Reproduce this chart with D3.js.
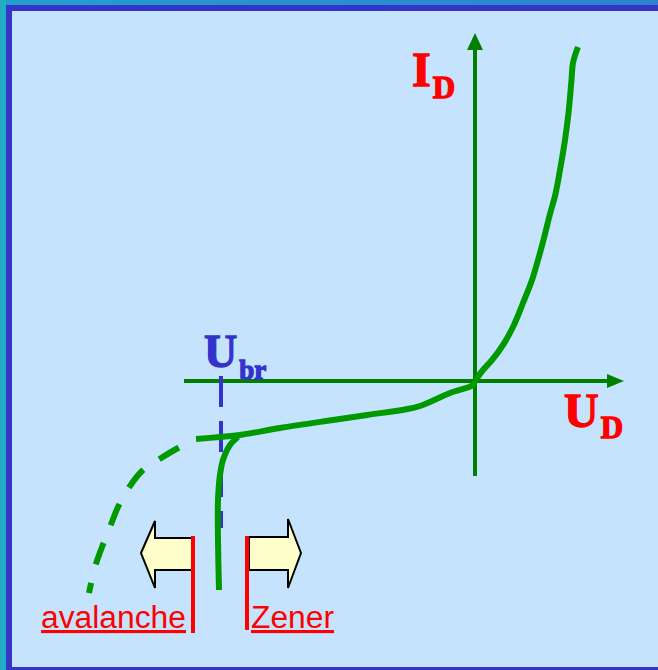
<!DOCTYPE html>
<html><head><meta charset="utf-8">
<script src="https://cdn.jsdelivr.net/npm/d3@7"></script>
<style>html,body{margin:0;padding:0;background:#2a90d0;overflow:hidden}</style>
</head><body>
<script>
// Forward characteristic (U in V-units, I in mA-units)
const forwardU = [0, 0.16, 0.34, 0.56, 0.76, 0.96, 1.14, 1.26, 1.38, 1.50, 1.60, 1.70, 1.80, 1.87, 1.93, 1.96, 2.06];
const forwardI = [0, 0.22, 0.42, 0.72, 1.08, 1.56, 2.02, 2.42, 2.86, 3.34, 3.70, 4.22, 4.82, 5.36, 6.02, 6.36, 6.68];
// Reverse leakage
const reverseU = [0, -0.04, -0.5, -1.1, -1.4, -2.16, -2.84, -3.9, -4.7, -5.1, -5.58];
const reverseI = [0, -0.08, -0.24, -0.50, -0.57, -0.68, -0.78, -0.94, -1.08, -1.12, -1.16];
// Zener breakdown branch
const zenerU = [-4.74, -4.9, -5.04, -5.1, -5.14, -5.14, -5.12];
const zenerI = [-1.12, -1.28, -1.58, -1.88, -2.38, -3.18, -4.18];
// Avalanche breakdown branch (dashed)
const avalU = [-5.58, -5.94, -6.34, -6.66, -6.94, -7.14, -7.3, -7.46, -7.6, -7.72];
const avalI = [-1.16, -1.34, -1.58, -1.8, -2.16, -2.52, -2.92, -3.32, -3.72, -4.24];
// Breakdown voltage marker
const Ubr = -5.08;
const labels = ["I", "D", "U", "D", "U", "br", "avalanche", "Zener"];

const W = 658, H = 670;
const svg = d3.select("body").append("svg").attr("width", W).attr("height", H)
  .style("display", "block");

const defs = svg.append("defs");
const grad = defs.append("linearGradient").attr("id", "topg").attr("x1", 0).attr("x2", 1);
grad.append("stop").attr("offset", 0).attr("stop-color", "#249fcc");
grad.append("stop").attr("offset", 1).attr("stop-color", "#2c82d0");

// frame
svg.append("rect").attr("x", 0).attr("y", 0).attr("width", W).attr("height", H).attr("fill", "url(#topg)");
svg.append("rect").attr("x", 0).attr("y", 0).attr("width", 6).attr("height", H).attr("fill", "#22adc6");
svg.append("rect").attr("x", 6).attr("y", 5).attr("width", W - 6).attr("height", H - 5).attr("fill", "#3535c8");
svg.append("rect").attr("x", 12).attr("y", 11).attr("width", W - 12).attr("height", H - 11 - 3).attr("fill", "#c5e3fc");

const x = d3.scaleLinear().domain([-8, 3]).range([75, 625]);
const y = d3.scaleLinear().domain([-4.5, 7]).range([606, 31]);

const axisCol = "#008000", curveCol = "#009900";

// axes
svg.append("line").attr("x1", x(-5.82)).attr("x2", x(2.7)).attr("y1", y(0)).attr("y2", y(0))
  .attr("stroke", axisCol).attr("stroke-width", 4);
svg.append("path").attr("d", `M${x(2.98)},${y(0)} L${x(2.64)},${y(0) - 7} L${x(2.64)},${y(0) + 7} Z`).attr("fill", axisCol);
svg.append("line").attr("x1", x(0)).attr("x2", x(0)).attr("y1", y(-1.9)).attr("y2", y(6.7))
  .attr("stroke", axisCol).attr("stroke-width", 4);
svg.append("path").attr("d", `M${x(0)},${y(6.96)} L${x(0) - 8},${y(6.62)} L${x(0) + 8},${y(6.62)} Z`).attr("fill", axisCol);

// Ubr dashed marker
svg.append("line").attr("x1", x(Ubr)).attr("x2", x(Ubr)).attr("y1", y(0.1)).attr("y2", y(-2.94))
  .attr("stroke", "#3333cc").attr("stroke-width", 4).attr("stroke-dasharray", "31,14");

const zip = (a, b) => a.map((v, i) => [v, b[i]]);
const lineY = d3.line().x(d => x(d[0])).y(d => y(d[1])).curve(d3.curveMonotoneY);
const lineC = d3.line().x(d => x(d[0])).y(d => y(d[1])).curve(d3.curveCatmullRom.alpha(0.5));

svg.append("path").attr("d", lineY(zip(forwardU, forwardI))).attr("fill", "none")
  .attr("stroke", curveCol).attr("stroke-width", 6);
svg.append("path").attr("d", lineC(zip(reverseU, reverseI))).attr("fill", "none")
  .attr("stroke", curveCol).attr("stroke-width", 6);
svg.append("path").attr("d", lineC(zip(zenerU, zenerI))).attr("fill", "none")
  .attr("stroke", curveCol).attr("stroke-width", 6);
svg.append("path").attr("d", lineC(zip(avalU, avalI))).attr("fill", "none")
  .attr("stroke", curveCol).attr("stroke-width", 6)
  .attr("stroke-dasharray", "23,19").attr("stroke-dashoffset", 23);

// block arrows
function blockArrow(tipU, headU, bodyU, headTop, headBot, bodyTop, bodyBot, tipI) {
  const p = [[tipU, tipI], [headU, headTop], [headU, bodyTop], [bodyU, bodyTop],
             [bodyU, bodyBot], [headU, bodyBot], [headU, headBot]];
  svg.append("path").attr("d", "M" + p.map(d => x(d[0]) + "," + y(d[1])).join("L") + "Z")
    .attr("fill", "#ffffcc").attr("stroke", "#000").attr("stroke-width", 2).attr("stroke-linejoin", "miter");
}
blockArrow(-6.68, -6.4, -5.66, -2.8, -4.14, -3.14, -3.78, -3.44);
blockArrow(-3.48, -3.74, -4.52, -2.76, -4.14, -3.12, -3.78, -3.44);

// red separators
svg.append("line").attr("x1", x(-5.64)).attr("x2", x(-5.64)).attr("y1", y(-3.1)).attr("y2", y(-5.04))
  .attr("stroke", "#ff0000").attr("stroke-width", 4);
svg.append("line").attr("x1", x(-4.56)).attr("x2", x(-4.56)).attr("y1", y(-3.1)).attr("y2", y(-4.98))
  .attr("stroke", "#ff0000").attr("stroke-width", 4);

// labels
const serif = "'Liberation Serif','Times New Roman',serif";
function subLabel(xp, yp, main, sub, col, size, subSize, dx, dy) {
  const t = svg.append("text").attr("x", xp).attr("y", yp).attr("fill", col)
    .attr("stroke", col).attr("stroke-width", 1.3)
    .attr("font-family", serif).attr("font-weight", "bold").attr("font-size", size);
  t.append("tspan").text(main);
  t.append("tspan").attr("dx", dx).attr("dy", dy).attr("font-size", subSize).text(sub);
}
subLabel(412, 86, labels[0], labels[1], "#ff0000", 48, 31, 2, 12);
subLabel(564, 427, labels[2], labels[3], "#ff0000", 48, 31, 2, 11);
subLabel(204, 367, labels[4], labels[5], "#3333cc", 46, 27, 2, 12);

const sans = "'Liberation Sans',Arial,sans-serif";
svg.append("text").attr("x", 41).attr("y", 628).attr("fill", "#ff0000")
  .attr("font-family", sans).attr("font-size", 31).attr("text-decoration", "underline")
  .attr("textLength", 145).attr("lengthAdjust", "spacingAndGlyphs").text(labels[6]);
svg.append("text").attr("x", 251).attr("y", 628).attr("fill", "#ff0000")
  .attr("font-family", sans).attr("font-size", 31).attr("text-decoration", "underline")
  .attr("textLength", 83).attr("lengthAdjust", "spacingAndGlyphs").text(labels[7]);
</script>
</body></html>
